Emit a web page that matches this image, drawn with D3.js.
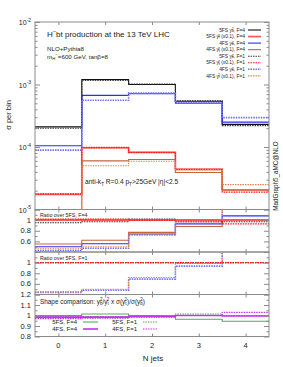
<!DOCTYPE html>
<html>
<head>
<meta charset="utf-8">
<script src="https://cdn.jsdelivr.net/npm/d3@7"></script>
<style>
  body { margin: 0; background: #fff; }
  text { font-family: "Liberation Sans", Arial, sans-serif; fill: #222; }
</style>
</head>
<body>
<svg id="chart" width="283" height="367"></svg>
<script>
// bins: N jets
const nJets = [0, 1, 2, 3, 4];
const edges = [-0.5, 0.5, 1.5, 2.5, 3.5, 4.5];

// sigma per bin (main panel)
const yb5F4 = [2.1e-4, 1.2e-3, 1.0e-3, 5.4e-4, 2.3e-4];
const yt5F4 = [1.74e-5, 9.7e-5, 8.2e-5, 4.45e-5, 2.05e-5];
const yb4F4 = [1.05e-4, 6.7e-4, 7.1e-4, 5.0e-4, 2.5e-4];
const yt4F4 = [9.6e-6, 6.0e-5, 6.3e-5, 3.9e-5, 2.05e-5];
const yb5F1 = [2.0e-4, 1.16e-3, 1.02e-3, 5.5e-4, 2.2e-4];
const yt5F1 = [1.78e-5, 9.9e-5, 8.2e-5, 4.35e-5, 1.9e-5];
const yb4F1 = [8.9e-5, 5.6e-4, 7.3e-4, 5.1e-4, 2.95e-4];
const yt4F1 = [8.0e-6, 5.0e-5, 5.9e-5, 4.3e-5, 2.5e-5];

// ratio over 5FS, F=4
const r1One   = [1, 1, 1, 1, 1];
const r1yb5F1 = [0.95, 0.97, 1.02, 0.99, 0.97];
const r1yt5F1 = [1.02, 1.02, 1.0, 0.98, 0.93];
const r1yb4F4 = [0.5, 0.555, 0.74, 0.93, 1.08];
const r1yt4F4 = [0.55, 0.62, 0.77, 0.88, 1.0];
const r1yb4F1 = [0.425, 0.47, 0.725, 0.94, 1.28];
const r1yt4F1 = [0.46, 0.5, 0.72, 0.965, 1.22];

// ratio over 5FS, F=1
const r2One   = [1, 1, 1, 1, 1];
const r2yb4F1 = [0.44, 0.48, 0.69, 0.935, 1.32];
const r2yt4F1 = [0.45, 0.5, 0.72, 0.985, 1.3];

// shape comparison
const s5F4 = [1.0, 1.015, 1.0, 0.965, 0.945];
const s5F1 = [0.99, 0.99, 0.995, 1.015, 1.0];
const s4F4 = [0.985, 0.985, 0.99, 1.0, 0.995];
const s4F1 = [0.97, 0.975, 0.985, 1.0, 1.03];

const mainTicks = [1e-5, 1e-4, 1e-3, 1e-2];
const ratioTicks = [0.6, 0.8, 1];
const shapeTicks = [0.8, 0.9, 1, 1.1, 1.2];

const svg = d3.select("#chart");
const L = 35, R = 269;
const frame = "#8a8a8a";

const x = d3.scaleLinear().domain([-0.5, 4.5]).range([L, R]);
const panels = [
  {id: "p0", top: 22, bottom: 209.5, y: d3.scaleLog().domain([1e-5, 1e-2]).range([209.5, 22])},
  {id: "p1", top: 209.5, bottom: 252, y: d3.scaleLinear().domain([0.4, 1.2]).range([252, 209.5])},
  {id: "p2", top: 252, bottom: 294.5, y: d3.scaleLinear().domain([0.4, 1.2]).range([294.5, 252])},
  {id: "p3", top: 294.5, bottom: 336.5, y: d3.scaleLinear().domain([0.8, 1.2]).range([336.5, 294.5])}
];

const styles = {
  b5F4: {c: "#111", w: 1.1},
  t5F4: {c: "#ff5a5a", w: 1.7},
  b4F4: {c: "#2b2bff", w: 1.1},
  t4F4: {c: "#c8643c", w: 1.1},
  b5F1: {c: "#333", w: 1.1, d: "1.5,1"},
  t5F1: {c: "#ff1010", w: 1.1, d: "1.5,1"},
  b4F1: {c: "#6f6fff", w: 1.6, d: "1.5,1"},
  t4F1: {c: "#e0844c", w: 1.1, d: "1.5,1"},
  g: {c: "#4caf50", w: 1.1},
  gd: {c: "#4caf50", w: 1.1, d: "1.5,1"},
  m: {c: "#c630f0", w: 1.6},
  md: {c: "#c630f0", w: 1.1, d: "1.5,1"}
};

const defs = svg.append("defs");
panels.forEach(p => {
  defs.append("clipPath").attr("id", "clip-" + p.id)
    .append("rect").attr("x", L).attr("y", p.top).attr("width", R - L).attr("height", p.bottom - p.top);
});

function drawStep(p, vals, st) {
  const line = d3.line()
    .x(d => x(d[0]))
    .y(d => p.y(d[1]))
    .curve(d3.curveStepAfter);
  const pts = edges.map((e, i) => [e, vals[Math.min(i, vals.length - 1)]]);
  svg.append("path")
    .attr("clip-path", "url(#clip-" + p.id + ")")
    .attr("d", line(pts))
    .attr("fill", "none")
    .attr("stroke", st.c)
    .attr("stroke-width", st.w)
    .attr("stroke-dasharray", st.d || null);
}

// rich text: parts = [[text, "sub"|"sup"|null, dx]]
function rich(g, xp, yp, parts, size, anchor, shift) {
  const sh = shift || [0.3, -0.42];
  const t = g.append("text").attr("x", xp).attr("y", yp)
    .attr("font-size", size).attr("text-anchor", anchor || "start");
  let cur = 0;
  parts.forEach(pt => {
    const target = pt[1] === "sub" ? sh[0] * size : pt[1] === "sup" ? sh[1] * size : 0;
    t.append("tspan")
      .attr("dy", target - cur)
      .attr("dx", pt[2] || null)
      .attr("font-size", pt[1] ? size * 0.7 : size)
      .text(pt[0]);
    cur = target;
  });
  return t;
}

// ---- main panel
const p0 = panels[0];
drawStep(p0, yb5F4, styles.b5F4);
drawStep(p0, yb5F1, styles.b5F1);
drawStep(p0, yb4F4, styles.b4F4);
drawStep(p0, yb4F1, styles.b4F1);
drawStep(p0, yt5F4, styles.t5F4);
drawStep(p0, yt5F1, styles.t5F1);
drawStep(p0, yt4F4, styles.t4F4);
drawStep(p0, yt4F1, styles.t4F1);

// ---- ratio over 5FS, F=4
const p1 = panels[1];
drawStep(p1, r1One, styles.b5F4);
drawStep(p1, r1yb4F4, styles.b4F4);
drawStep(p1, r1yt4F4, styles.t4F4);
drawStep(p1, r1yb4F1, styles.b4F1);
drawStep(p1, r1yt4F1, styles.t4F1);
drawStep(p1, r1yb5F1, styles.b5F1);
drawStep(p1, r1One, styles.t5F4);
drawStep(p1, r1yt5F1, styles.t5F1);

// ---- ratio over 5FS, F=1
const p2 = panels[2];
drawStep(p2, r2yb4F1, styles.b4F1);
drawStep(p2, r2yt4F1, styles.t4F1);
drawStep(p2, r2One, styles.b5F1);
drawStep(p2, r2One, styles.t5F1);

// ---- shape comparison
const p3 = panels[3];
drawStep(p3, s5F4, styles.g);
drawStep(p3, s5F1, styles.gd);
drawStep(p3, s4F4, styles.m);
drawStep(p3, s4F1, styles.md);

// ---- frames and ticks
panels.forEach((p, i) => {
  const g = svg.append("g");
  g.append("rect").attr("x", L).attr("y", p.top).attr("width", R - L).attr("height", p.bottom - p.top)
    .attr("fill", "none").attr("stroke", frame).attr("stroke-width", 1);

  g.append("g").attr("transform", `translate(0,${p.bottom})`)
    .call(d3.axisBottom(x).tickValues(nJets).tickSize(-3).tickFormat(""));
  g.append("g").attr("transform", `translate(0,${p.top})`)
    .call(d3.axisTop(x).tickValues(nJets).tickSize(-3).tickFormat(""));

  let major, minor;
  if (i === 0) {
    major = mainTicks;
    minor = [];
    [1e-5, 1e-4, 1e-3].forEach(d => { for (let k = 2; k < 10; k++) minor.push(d * k); });
  } else if (i === 3) {
    major = shapeTicks;
    minor = d3.range(0.85, 1.2, 0.1);
  } else {
    major = [0.4, 0.6, 0.8, 1, 1.2];
    minor = [0.5, 0.7, 0.9, 1.1];
  }
  [[d3.axisLeft, L], [d3.axisRight, R]].forEach(([ax, pos]) => {
    g.append("g").attr("transform", `translate(${pos},0)`)
      .call(ax(p.y).tickValues(major).tickSize(-5).tickFormat(""));
    g.append("g").attr("transform", `translate(${pos},0)`)
      .call(ax(p.y).tickValues(minor).tickSize(-2.5).tickFormat(""));
  });
  g.selectAll(".domain").remove();
  g.selectAll(".tick line").attr("stroke", frame);
});

// y tick labels
mainTicks.forEach(v => {
  const e = Math.round(Math.log10(v));
  rich(svg, 31, p0.y(v) + 3, [["10", null], [String(e), "sup"]], 7, "end")
    .selectAll("tspan").filter((d, k) => k === 1).attr("dy", -3.2);
});
[p1, p2].forEach(p => {
  ratioTicks.forEach(v => {
    svg.append("text").attr("x", 31).attr("y", p.y(v) + 2.6)
      .attr("text-anchor", "end").attr("font-size", 7.5).text(v);
  });
});
shapeTicks.forEach(v => {
  svg.append("text").attr("x", 31).attr("y", p3.y(v) + 2.6)
    .attr("text-anchor", "end").attr("font-size", 7.5).text(v);
});

// x tick labels
nJets.forEach(v => {
  svg.append("text").attr("x", x(v)).attr("y", 347.5)
    .attr("text-anchor", "middle").attr("font-size", 7.5).text(v);
});
svg.append("text").attr("x", 153).attr("y", 360.5)
  .attr("text-anchor", "middle").attr("font-size", 8).text("N jets");

svg.append("text").attr("transform", "translate(11,115) rotate(-90)")
  .attr("text-anchor", "middle").attr("font-size", 7.5).text("σ per bin");

svg.append("text").attr("transform", "translate(277.5,176) rotate(-90)")
  .attr("text-anchor", "middle").attr("font-size", 6.3).text("MadGraph5_aMC@NLO");

// annotations
rich(svg, 47, 36.5, [["H", null], ["−", "sup"], ["bt production at the 13 TeV LHC", null]], 8);
svg.append("text").attr("x", 47).attr("y", 50.5).attr("font-size", 6.2).text("NLO+Pythia8");
rich(svg, 47, 58.5, [["m", null], ["H", "sub"], ["−", "sup", 0], ["=600 GeV, tanβ=8", null]], 6.2);
rich(svg, 85, 184, [["anti-k", null], ["T", "sub"], [" R=0.4 p", null], ["T", "sub"], [">25GeV |η|<2.5", null]], 6.6);

rich(svg, 40, 217, [["Ratio over 5FS, F=4", null]], 5.3);
rich(svg, 40, 260, [["Ratio over 5FS, F=1", null]], 5.3);
rich(svg, 40, 303.5, [["Shape comparison: y", null], ["b", "sub"], ["2", "sup", -2.5], ["/y", null], ["t", "sub"],
  ["2", "sup", -2], [" x σ(y", null], ["t", "sub"], ["2", "sup", -2], [")/σ(y", null], ["b", "sub"], ["2", "sup", -2.5], [")", null]], 6.4);

// legend (top right)
const legRows = [
  ["5FS", "b", "", "4", styles.b5F4],
  ["5FS", "t", " (x0.1)", "4", styles.t5F4],
  ["4FS", "b", "", "4", styles.b4F4],
  ["4FS", "t", " (x0.1)", "4", styles.t4F4],
  ["5FS", "b", "", "1", styles.b5F1],
  ["5FS", "t", " (x0.1)", "1", styles.t5F1],
  ["4FS", "b", "", "1", styles.b4F1],
  ["4FS", "t", " (x0.1)", "1", styles.t4F1]
];
legRows.forEach((r, i) => {
  const yy = 30 + i * 6.55;
  rich(svg, 245, yy + 1.7, [[r[0] + " y", null], [r[1], "sub"], ["2", "sup", -2], [r[2] + ", F=" + r[3], null]],
    4.9, "end", [0.05, -0.26]);
  svg.append("line").attr("x1", 248).attr("x2", 261).attr("y1", yy).attr("y2", yy)
    .attr("stroke", r[4].c).attr("stroke-width", r[4].w).attr("stroke-dasharray", r[4].d || null);
});

// legend (shape panel)
const shapeLeg = [
  ["5FS, F=4", 77, 322, styles.g], ["4FS, F=4", 77, 329, styles.m],
  ["5FS, F=1", 137, 322, styles.gd], ["4FS, F=1", 137, 329, styles.md]
];
shapeLeg.forEach(r => {
  svg.append("text").attr("x", r[1]).attr("y", r[2] + 2).attr("text-anchor", "end")
    .attr("font-size", 6).text(r[0]);
  svg.append("line").attr("x1", r[1] + 6).attr("x2", r[1] + 21).attr("y1", r[2]).attr("y2", r[2])
    .attr("stroke", r[3].c).attr("stroke-width", r[3].w).attr("stroke-dasharray", r[3].d || null);
});
</script>
</body>
</html>
